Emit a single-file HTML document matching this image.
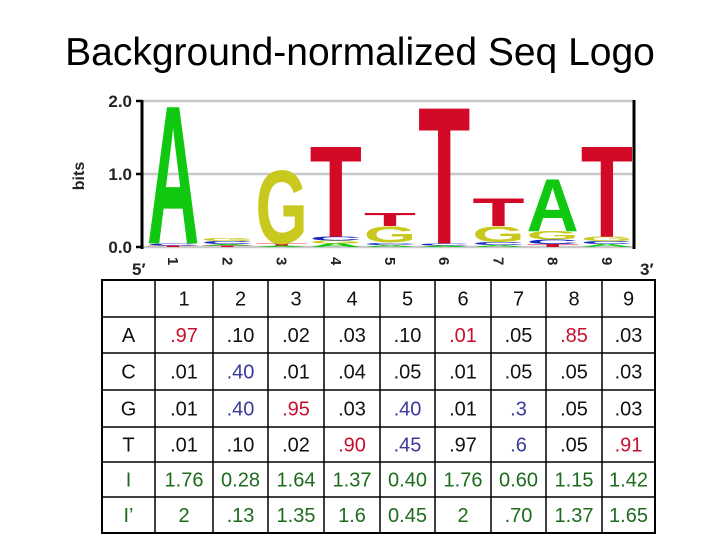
<!DOCTYPE html>
<html><head><meta charset="utf-8"><style>
body{margin:0;background:#fff;}
#wrap{position:relative;width:720px;height:540px;overflow:hidden;font-family:"Liberation Sans",sans-serif;}
</style></head><body>
<div id="wrap">
<svg id="chart" width="720" height="540" viewBox="0 0 720 540" xmlns="http://www.w3.org/2000/svg">
<text x="360" y="65" text-anchor="middle" font-family="Liberation Sans, sans-serif" font-size="39" fill="#000">Background-normalized Seq Logo</text>
<g id="logo"></g>
<g id="table"></g>
</svg>
</div>
<script>
const positions = ["1","2","3","4","5","6","7","8","9"];
const stack1 = [["T",0.02],["C",0.03],["A",1.94]];
const stack2 = [["T",0.02],["A",0.02],["C",0.04],["G",0.04]];
const stack3 = [["A",0.02],["T",0.03],["G",1.03]];
const stack4 = [["A",0.05],["G",0.04],["C",0.05],["T",1.28]];
const stack5 = [["A",0.03],["C",0.03],["G",0.23],["T",0.18]];
const stack6 = [["A",0.02],["C",0.03],["T",1.92]];
const stack7 = [["A",0.03],["C",0.04],["G",0.22],["T",0.39]];
const stack8 = [["T",0.04],["C",0.06],["G",0.12],["A",0.74]];
const stack9 = [["A",0.04],["C",0.04],["G",0.06],["T",1.28]];
const stacks = [stack1,stack2,stack3,stack4,stack5,stack6,stack7,stack8,stack9];
const yTicks = [0,1,2];
const yTickLabels = ["0.0","1.0","2.0"];
const rowLabels = ["A","C","G","T","I","I’"];
const rowA = [".97",".10",".02",".03",".10",".01",".05",".85",".03"];
const rowC = [".01",".40",".01",".04",".05",".01",".05",".05",".03"];
const rowG = [".01",".40",".95",".03",".40",".01",".3",".05",".03"];
const rowT = [".01",".10",".02",".90",".45",".97",".6",".05",".91"];
const rowI = ["1.76","0.28","1.64","1.37","0.40","1.76","0.60","1.15","1.42"];
const rowI2 = ["2",".13","1.35","1.6","0.45","2",".70","1.37","1.65"];
const colorA = ["r","k","k","k","k","r","k","r","k"];
const colorC = ["k","b","k","k","k","k","k","k","k"];
const colorG = ["k","b","r","k","b","k","b","k","k"];
const colorT = ["k","k","k","r","b","k","b","k","r"];

const NS="http://www.w3.org/2000/svg";
function mk(tag,attrs,parent){const e=document.createElementNS(NS,tag);for(const k in attrs)e.setAttribute(k,attrs[k]);parent.appendChild(e);return e;}
const logo=document.getElementById('logo');
const X0=142,X1=634,Y0=247,Y2=101;
const colW=(X1-X0-4)/9;
const yS=v=>Y0-(Y0-Y2)*v/2;
const xS=i=>X0+4+i*colW;
const letterColor={A:"#10c810",C:"#1428c0",G:"#c8c81e",T:"#d20a28"};
yTicks.forEach((t,i)=>{
  const g=mk('line',{x1:X0,x2:X1,y1:yS(t),y2:yS(t),stroke:"#c8c8c8","stroke-width":2.5},logo);
  
  
  const tk=mk('line',{x1:X0-6,x2:X0,y1:yS(t),y2:yS(t),stroke:"#000","stroke-width":2.5},logo);
  
  
  const tl=mk('text',{x:X0-10,y:yS(t)+6,"text-anchor":"end","font-size":17,"font-weight":"bold","font-family":"Liberation Sans, sans-serif",fill:"#222"},logo);
  tl.textContent=yTickLabels[i];
  
  
});
stacks.forEach((st,i)=>{
  let base=0;
  st.forEach(([L,h])=>{
    const yb=yS(base), yt=yS(base+h), ph=yb-yt;
    const sy=ph/71.6;
    const t=mk('text',{transform:`translate(${xS(i)+1},${yb}) scale(1,${sy})`,"font-size":100,"font-weight":"bold","font-family":"Liberation Sans, sans-serif",fill:letterColor[L],textLength:colW-2,lengthAdjust:"spacingAndGlyphs"},logo);
    t.textContent=L;
    
    
    base+=h;
  });
  const xl=mk('text',{transform:`translate(${xS(i)+colW/2-5},${Y0+10}) rotate(90)`,"font-size":15,"font-weight":"bold","font-family":"Liberation Sans, sans-serif",fill:"#222"},logo);
  xl.textContent=positions[i];
  
  
});
const ya=mk('line',{x1:X0,x2:X0,y1:Y2-1,y2:Y0+2,stroke:"#000","stroke-width":3},logo);


const ra=mk('line',{x1:X1,x2:X1,y1:Y2-1,y2:Y0+2,stroke:"#000","stroke-width":3},logo);


const bits=mk('text',{transform:"translate(84,176) rotate(-90)","text-anchor":"middle","font-size":16,"font-weight":"bold","font-family":"Liberation Sans, sans-serif",fill:"#222"},logo);
bits.textContent="bits";


const p5=mk('text',{x:132,y:275,"font-size":17,"font-weight":"bold","font-family":"Liberation Sans, sans-serif",fill:"#222"},logo);
p5.textContent="5′";


const p3=mk('text',{x:640,y:275,"font-size":17,"font-weight":"bold","font-family":"Liberation Sans, sans-serif",fill:"#222"},logo);
p3.textContent="3′";



const tb=document.getElementById('table');
const cx=[102,155,213,268,324,380,435,491,546,602,655];
const ry=[280,317,353,390,427,462,497,533];
const colMap={r:"#c8102e",b:"#3a3a9a",k:"#111",g:"#1d6b1d"};
const border=mk('rect',{x:cx[0],y:ry[0],width:cx[10]-cx[0],height:ry[7]-ry[0],fill:"none",stroke:"#000","stroke-width":2},tb);


cx.slice(1,10).forEach(x=>{const l=mk('line',{x1:x,x2:x,y1:ry[0],y2:ry[7],stroke:"#000","stroke-width":1.5},tb);

});
ry.slice(1,7).forEach(y=>{const l=mk('line',{x1:cx[0],x2:cx[10],y1:y,y2:y,stroke:"#000","stroke-width":1.5},tb);

});
function cell(txt,c,r,col,name){
  const t=mk('text',{x:(cx[c]+cx[c+1])/2,y:(ry[r]+ry[r+1])/2+7,"text-anchor":"middle","font-size":20,"font-family":"Liberation Sans, sans-serif",fill:col},tb);
  t.textContent=txt;
  
  
}
positions.forEach((p,i)=>cell(p,i+1,0,"#111",'header-pos-'+p));
const rows=[rowA,rowC,rowG,rowT,rowI,rowI2];
const cols=[colorA,colorC,colorG,colorT,null,null];
rows.forEach((row,r)=>{
  cell(rowLabels[r],0,r+1,r>=4?colMap.g:"#111",'row-label');
  row.forEach((v,i)=>cell(v,i+1,r+1,cols[r]?colMap[cols[r][i]]:colMap.g,'cell-value'));
});
</script>
</body></html>
